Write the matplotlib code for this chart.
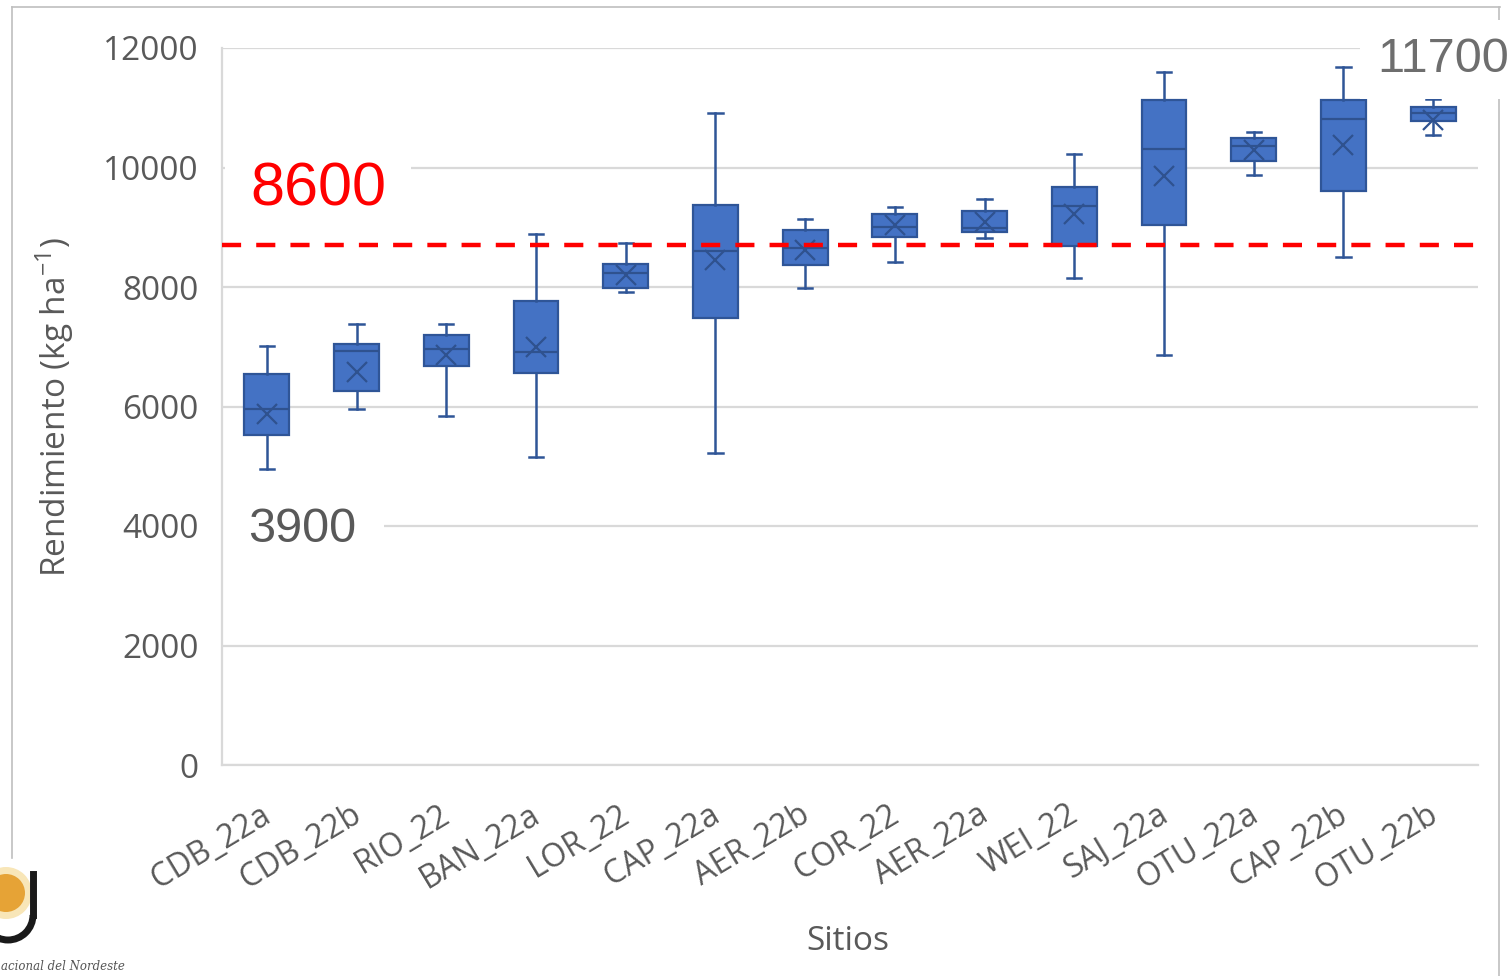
import numpy as np
import matplotlib.pyplot as plt
from matplotlib.lines import Line2D
from matplotlib.patches import Ellipse, Arc
from matplotlib.transforms import ScaledTranslation

plt.rcParams['font.family'] = ['Open Sans', 'DejaVu Sans']

# --- data (kg ha-1) ---
sites = ["CDB_22a", "CDB_22b", "RIO_22", "BAN_22a", "LOR_22", "CAP_22a", "AER_22b",
         "COR_22", "AER_22a", "WEI_22", "SAJ_22a", "OTU_22a", "CAP_22b", "OTU_22b"]
whis_lo = [4950, 5950, 5840, 5160, 7920, 5230, 7990, 8420, 8820, 8150, 6860, 9880, 8500, 10540]
q1      = [5520, 6260, 6670, 6560, 7980, 7480, 8360, 8840, 8920, 8680, 9030, 10110, 9610, 10780]
median  = [5950, 6930, 6960, 6910, 8240, 8610, 8660, 9010, 8990, 9360, 10310, 10360, 10810, 10910]
q3      = [6540, 7050, 7200, 7770, 8380, 9370, 8950, 9220, 9280, 9680, 11130, 10500, 11130, 11020]
whis_hi = [7020, 7380, 7380, 8880, 8730, 10910, 9140, 9340, 9480, 10220, 11600, 10600, 11690, 11150]
means   = [5880, 6580, 6860, 7000, 8200, 8450, 8620, 9040, 9090, 9230, 9850, 10290, 10380, 10800]

ref_line = 8700
ref_text = "8600"
min_text = "3900"
max_text = "11700"

blue = "#4472C4"
dark_blue = "#2F5597"
grey_txt = "#595959"

fig = plt.figure(figsize=(15.1, 9.76), dpi=100)
ax = fig.add_axes([222 / 1510, 1 - 765 / 976, 1256 / 1510, 717 / 976])

stats = []
for i, name in enumerate(sites):
    stats.append(dict(label=name, whislo=whis_lo[i], q1=q1[i], med=median[i],
                      q3=q3[i], whishi=whis_hi[i], mean=means[i], fliers=[]))

ax.bxp(stats, positions=np.arange(1, len(sites) + 1), widths=0.5, capwidths=0.16,
       patch_artist=True, showmeans=True,
       boxprops=dict(facecolor=blue, edgecolor=dark_blue, linewidth=1.6),
       whiskerprops=dict(color=dark_blue, linewidth=1.8),
       capprops=dict(color=dark_blue, linewidth=1.8),
       medianprops=dict(color="#2F528F", linewidth=1.6),
       meanprops=dict(marker="x", markersize=15, markeredgecolor="#2F528F",
                      markeredgewidth=1.6))

ax.axhline(ref_line, color="red", linewidth=3.2, linestyle=(0, (4.3, 3.4)), zorder=5)

ax.set_ylim(0, 12000)
ax.set_xlim(0.5, len(sites) + 0.5)
ax.set_yticks(np.arange(0, 12001, 2000))
ax.set_axisbelow(True)
ax.yaxis.grid(True, color="#D9D9D9", linewidth=1.6)
for s in ["top", "right"]:
    ax.spines[s].set_visible(False)
for s in ["left", "bottom"]:
    ax.spines[s].set_color("#D9D9D9")
    ax.spines[s].set_linewidth(1.6)
ax.tick_params(axis="y", length=0, pad=17, labelsize=24, labelcolor=grey_txt)
ax.tick_params(axis="x", length=0, pad=24, labelsize=23, labelcolor=grey_txt)
shift = ScaledTranslation(-7 / 100, 0, fig.dpi_scale_trans)
for lab in ax.get_xticklabels():
    lab.set_rotation(31)
    lab.set_ha("right")
    lab.set_rotation_mode("anchor")
    lab.set_transform(lab.get_transform() + shift)

# axis titles
fig.text(848 / 1510, 1 - 942 / 976, "Sitios", ha="center", va="center",
         fontsize=24, color=grey_txt)
fig.text(55 / 1510, 1 - 407 / 976, r"Rendimiento (kg ha$^{\mathregular{-1}}$)",
         ha="center", va="center", rotation=90, fontsize=24, color=grey_txt)

# annotation numbers with white background (below the axis spines)
ax.text(250 / 1510, 1 - 205 / 976, ref_text, fontsize=44, color="red",
        family="Liberation Sans", ha="left", va="baseline", zorder=2,
        transform=fig.transFigure, clip_on=False,
        bbox=dict(facecolor="white", edgecolor="none", pad=18))
ax.text(248 / 1510, 1 - 542 / 976, min_text, fontsize=35, color=grey_txt,
        family="Liberation Sans", ha="left", va="baseline", zorder=2,
        transform=fig.transFigure, clip_on=False,
        bbox=dict(facecolor="white", edgecolor="none", pad=20))
fig.text(1377 / 1510, 1 - 72 / 976, max_text, fontsize=35, color="#6E6E6E",
         family="Liberation Sans", ha="left", va="baseline", zorder=10,
         bbox=dict(facecolor="white", edgecolor="none", pad=12))

# slide frame
frame_c = "#BFBFBF"
fig.add_artist(Line2D([12 / 1510, 1500 / 1510], [1 - 7 / 976, 1 - 7 / 976],
                      color=frame_c, linewidth=1.2, zorder=1))
fig.add_artist(Line2D([12 / 1510, 12 / 1510], [1 - 7 / 976, 1 - 858 / 976],
                      color=frame_c, linewidth=1.2, zorder=1))
fig.add_artist(Line2D([1499 / 1510, 1499 / 1510], [1 - 7 / 976, 0],
                      color=frame_c, linewidth=1.2, zorder=1))

# partial logo at bottom left
fig.add_artist(Ellipse((6 / 1510, 1 - 893 / 976), 52 / 1510, 52 / 976,
                       transform=fig.transFigure, facecolor="#F8E6B8",
                       edgecolor="none", zorder=2))
fig.add_artist(Ellipse((6 / 1510, 1 - 893 / 976), 38 / 1510, 38 / 976,
                       transform=fig.transFigure, facecolor="#E6A336",
                       edgecolor="none", zorder=2))
fig.add_artist(Line2D([33 / 1510, 33 / 1510], [1 - 874 / 976, 1 - 915 / 976],
                      color="#1A1A1A", linewidth=5, zorder=3))
fig.add_artist(Arc((8 / 1510, 1 - 915 / 976), 50 / 1510, 50 / 976, theta1=180, theta2=360,
                   transform=fig.transFigure, color="#1A1A1A", linewidth=5, zorder=3))
fig.text(1 / 1510, 1 - 966 / 976, "acional del Nordeste", ha="left",
         va="center", fontsize=8.5, style="italic", family="DejaVu Serif", color="#555555")

fig.savefig("out.png", dpi=100, facecolor="white")
